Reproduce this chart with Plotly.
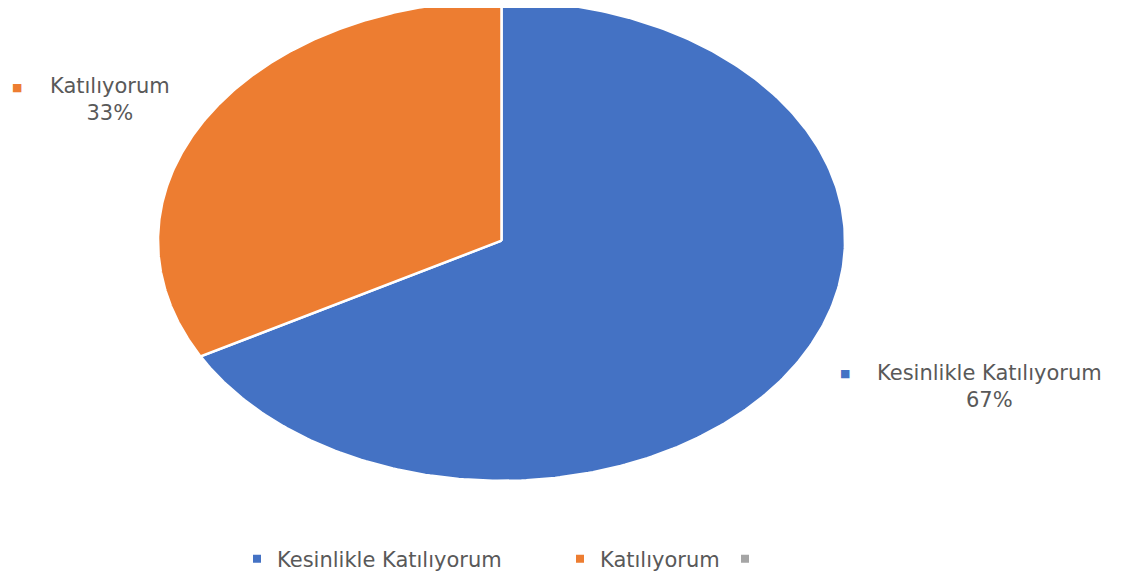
import numpy as np
import plotly.graph_objects as go

categories = ["Kesinlikle Katılıyorum", "Katılıyorum", ""]
values = [67, 33, 0]
colors = ["#4472C4", "#ED7D31", "#A5A5A5"]

OFF = 8                      # default page body margin
W, H = 1121 - OFF, 580 - OFF  # figure size so it ends at the window edge


def px(x):
    return (x - OFF) / W


def py(y):
    return 1 - (y - OFF) / H


cx, cy = 501.5 - OFF, 241.5 - OFF   # pie centre in figure pixels
rx, ry = 343.5, 241.0               # pie radii in pixels

total = float(sum(values))
fig = go.Figure()

# slices, clockwise from 12 o'clock
start = 90.0
for name, v, c in zip(categories, values, colors):
    if v <= 0:
        continue
    sweep = 360.0 * v / total
    ang = np.radians(np.linspace(start, start - sweep, 300))
    xs = np.concatenate([[0], np.cos(ang), [0]])
    ys = np.concatenate([[0], np.sin(ang), [0]])
    fig.add_trace(go.Scatter(x=xs, y=ys, mode="lines", fill="toself",
                             fillcolor=c, line=dict(color="white", width=2.5),
                             showlegend=False, hoverinfo="skip"))
    start -= sweep

FONT = "DejaVu Sans"
TXT = "#595959"

# legend entries, one legend each so they sit where the reference has them
legend_marker_x = [257, 580, 745]
legend_names = ["legend", "legend2", "legend3"]
legends = {}
for name, c, lx, ln in zip(categories, colors, legend_marker_x, legend_names):
    fig.add_trace(go.Scatter(x=[None], y=[None], mode="markers", name=name,
                             marker=dict(symbol="square", size=8, color=c),
                             showlegend=True, legend=ln))
    legends[ln] = dict(orientation="h", x=px(lx - 20), xanchor="left",
                       y=py(561), yanchor="middle", itemwidth=30,
                       font=dict(family=FONT, size=21, color=TXT),
                       bgcolor="rgba(0,0,0,0)", borderwidth=0)

# data labels (reference pixel positions)
label_pos = {
    "Katılıyorum": (110, 100, 17, 88),
    "Kesinlikle Katılıyorum": (990, 388, 845, 375),
}
for name, v, c in zip(categories, values, colors):
    if name not in label_pos:
        continue
    tx, ty, mx, my = label_pos[name]
    pct = f"{round(100 * v / total)}%"
    fig.add_annotation(x=px(tx), y=py(ty), xref="paper", yref="paper",
                       xanchor="center", yanchor="middle",
                       text=f"{name}<br>{pct}", showarrow=False, align="center",
                       font=dict(family=FONT, size=21, color=TXT))
    fig.add_annotation(x=px(mx), y=py(my), xref="paper", yref="paper",
                       xanchor="center", yanchor="middle",
                       text="■", showarrow=False,
                       font=dict(family="DejaVu Sans", size=11, color=c))

fig.update_layout(
    width=W, height=H,
    margin=dict(l=0, r=0, t=0, b=0),
    paper_bgcolor="white", plot_bgcolor="white",
    xaxis=dict(range=[-cx / rx, (W - cx) / rx], visible=False, fixedrange=True),
    yaxis=dict(range=[-(H - cy) / ry, cy / ry], visible=False, fixedrange=True),
    showlegend=True,
    **legends,
)

fig.write_html("out.html")
